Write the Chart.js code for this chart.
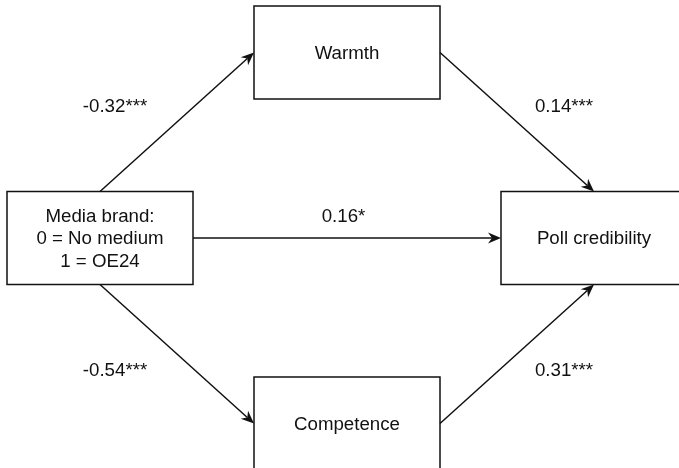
<!DOCTYPE html>
<html>
<head>
<meta charset="utf-8">
<script src="https://cdn.jsdelivr.net/npm/chart.js@4/dist/chart.umd.min.js"></script>
<style>
  html, body { margin: 0; padding: 0; background: #ffffff; }
  #wrap { width: 679px; height: 468px; position: relative; }
</style>
</head>
<body>
<div id="wrap"><canvas id="c"></canvas></div>
<script>
// ---- Data ----
const nodeLabels = [
  ["Media brand:", "0 = No medium", "1 = OE24"],
  ["Warmth"],
  ["Competence"],
  ["Poll credibility"]
];
const nodeCol = [0, 1, 1, 2];   // column in the path diagram
const nodeRow = [0, 1, -1, 0];  // row in the path diagram
const edgeFrom = [0, 1, 0, 0, 2];
const edgeTo   = [1, 3, 3, 2, 3];
const edgeCoef = ["-0.32***", "0.14***", "0.16*", "-0.54***", "0.31***"];

// ---- Styles ----
const FONT = '18.7px "Liberation Sans", Arial, sans-serif';
const TEXT_COLOR = '#111111';
const LINE_COLOR = '#111111';
const BOX_W = 186, BOX_H = 93;
const LABEL_DX_LEFT = -62, LABEL_DX_RIGHT = 47, LABEL_DY = 16, LABEL_DY_FLAT = -22;

const diagramPlugin = {
  id: 'pathDiagram',
  afterDatasetsDraw(chart) {
    const ctx = chart.ctx;
    const xs = chart.scales.x, ys = chart.scales.y;
    const cx = nodeCol.map(v => xs.getPixelForValue(v));
    const cy = nodeRow.map(v => ys.getPixelForValue(v));
    const side = (i, s) => {
      const hw = BOX_W / 2, hh = BOX_H / 2;
      if (s === 'top') return [cx[i], cy[i] - hh];
      if (s === 'bottom') return [cx[i], cy[i] + hh];
      if (s === 'left') return [cx[i] - hw, cy[i]];
      return [cx[i] + hw, cy[i]];
    };
    ctx.save();
    // boxes
    ctx.lineWidth = 1.5;
    ctx.strokeStyle = LINE_COLOR;
    nodeLabels.forEach((lines, i) => {
      const x = cx[i] - BOX_W / 2;
      const y = cy[i] - BOX_H / 2;
      ctx.fillStyle = '#ffffff';
      ctx.fillRect(x, y, BOX_W, BOX_H);
      ctx.strokeRect(x, y, BOX_W, BOX_H);
      ctx.fillStyle = TEXT_COLOR;
      ctx.font = FONT;
      ctx.textAlign = 'center';
      ctx.textBaseline = 'middle';
      const lh = 22.5;
      const y0 = cy[i] - (lines.length - 1) * lh / 2;
      lines.forEach((t, k) => ctx.fillText(t, cx[i], y0 + k * lh + 1));
    });
    // edges
    const midX = xs.getPixelForValue(1), midY = ys.getPixelForValue(0);
    edgeFrom.forEach((f, e) => {
      const t = edgeTo[e];
      let a, b;
      if (nodeRow[f] === nodeRow[t]) {
        a = side(f, 'right'); b = side(t, 'left');
      } else if (nodeRow[f] === 0) {
        a = side(f, nodeRow[t] > nodeRow[f] ? 'top' : 'bottom');
        b = side(t, nodeCol[t] > nodeCol[f] ? 'left' : 'right');
      } else {
        a = side(f, nodeCol[t] > nodeCol[f] ? 'right' : 'left');
        b = side(t, nodeRow[f] > nodeRow[t] ? 'top' : 'bottom');
      }
      const dx = b[0] - a[0], dy = b[1] - a[1];
      const L = Math.hypot(dx, dy), ux = dx / L, uy = dy / L;
      const px = -uy, py = ux;
      const alen = 13, aw = 5.5, notch = 4;
      ctx.strokeStyle = LINE_COLOR;
      ctx.lineWidth = 1.5;
      ctx.beginPath();
      ctx.moveTo(a[0], a[1]);
      ctx.lineTo(b[0] - ux * (alen - notch), b[1] - uy * (alen - notch));
      ctx.stroke();
      ctx.fillStyle = LINE_COLOR;
      ctx.beginPath();
      ctx.moveTo(b[0], b[1]);
      ctx.lineTo(b[0] - ux * alen + px * aw, b[1] - uy * alen + py * aw);
      ctx.lineTo(b[0] - ux * (alen - notch), b[1] - uy * (alen - notch));
      ctx.lineTo(b[0] - ux * alen - px * aw, b[1] - uy * alen - py * aw);
      ctx.closePath();
      ctx.fill();
      // coefficient label
      const mx = (a[0] + b[0]) / 2, my = (a[1] + b[1]) / 2;
      let lx, ly;
      if (Math.abs(dy) < 0.5) { lx = mx - 3.5; ly = my + LABEL_DY_FLAT; }
      else {
        lx = mx + (mx < midX ? LABEL_DX_LEFT : LABEL_DX_RIGHT);
        ly = my + Math.sign(my - midY) * LABEL_DY;
      }
      ctx.fillStyle = TEXT_COLOR;
      ctx.font = FONT;
      ctx.textAlign = 'center';
      ctx.textBaseline = 'middle';
      ctx.fillText(edgeCoef[e], lx, ly + 1);
    });
    ctx.restore();
  }
};

new Chart(document.getElementById('c'), {
  type: 'scatter',
  data: {
    datasets: [{
      data: nodeCol.map((c, i) => ({ x: c, y: nodeRow[i] })),
      pointRadius: 0,
      pointHoverRadius: 0
    }]
  },
  options: {
    responsive: true,
    maintainAspectRatio: false,
    devicePixelRatio: 1,
    animation: false,
    events: [],
    layout: { padding: 0 },
    plugins: { legend: { display: false }, tooltip: { enabled: false } },
    scales: {
      x: { type: 'linear', display: false, min: -0.40486, max: 2.34413 },
      y: { type: 'linear', display: false, min: -1.23989, max: 1.28302 }
    }
  },
  plugins: [diagramPlugin]
});
</script>
</body>
</html>
